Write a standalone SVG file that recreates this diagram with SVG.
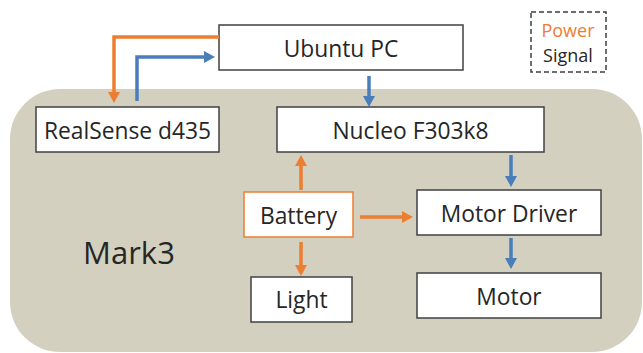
<svg xmlns="http://www.w3.org/2000/svg" width="643" height="353" viewBox="0 0 643 353">
<style>
.box{fill:#fff;stroke:#404040;stroke-width:1.5}
.t{font-family:"Open Sans","Liberation Sans",sans-serif;font-size:22.8px;fill:#262626;text-anchor:middle}
.pw{fill:none;stroke:#ED7D31;stroke-width:3.5}
.sg{fill:none;stroke:#4A7EBB;stroke-width:3.5}
</style>
<defs>
<marker id="ao" markerUnits="userSpaceOnUse" markerWidth="14" markerHeight="14" refX="0" refY="0" viewBox="0 -7 12 14" orient="auto"><path d="M0,-6 L11,0 L0,6 z" fill="#ED7D31"/></marker>
<marker id="ab" markerUnits="userSpaceOnUse" markerWidth="14" markerHeight="14" refX="0" refY="0" viewBox="0 -7 12 14" orient="auto"><path d="M0,-6 L11,0 L0,6 z" fill="#4A7EBB"/></marker>
</defs>
<rect width="643" height="353" fill="#fff"/>
<rect id="mark3-bg" x="10" y="89" width="632" height="263" rx="50" ry="50" fill="#D4D0C0"/>
<text class="t" x="129" y="264" style="font-size:31px">Mark3</text>
<g id="legend">
<rect x="531" y="12" width="75" height="60" fill="#fff" stroke="#404040" stroke-width="1.5" stroke-dasharray="5,3"/>
<text class="t" x="568" y="37" style="font-size:18px;fill:#ED7D31">Power</text>
<text class="t" x="568" y="62" style="font-size:18px">Signal</text>
</g>
<g id="ubuntu"><rect class="box" x="219" y="25" width="244" height="45"/><text class="t" x="341" y="57">Ubuntu PC</text></g>
<g id="realsense"><rect class="box" x="36" y="107" width="183" height="45"/><text class="t" x="127.5" y="139">RealSense d435</text></g>
<g id="nucleo"><rect class="box" x="277" y="107" width="267" height="45"/><text class="t" x="410.5" y="139">Nucleo F303k8</text></g>
<g id="battery"><rect x="244" y="192" width="109" height="45" fill="#fff" stroke="#ED7D31" stroke-width="1.5"/><text class="t" x="298.5" y="224">Battery</text></g>
<g id="light"><rect class="box" x="251" y="277" width="101" height="45"/><text class="t" x="301.5" y="308">Light</text></g>
<g id="motordriver"><rect class="box" x="417" y="190" width="184" height="45"/><text class="t" x="509" y="222">Motor Driver</text></g>
<g id="motor"><rect class="box" x="417" y="273" width="184" height="45"/><text class="t" x="509" y="305">Motor</text></g>
<g id="connectors">
<path class="pw" d="M219,37 H114 V92" marker-end="url(#ao)"/>
<path class="sg" d="M137,101 V57 H204" marker-end="url(#ab)"/>
<path class="sg" d="M369,76 V96" marker-end="url(#ab)"/>
<path class="sg" d="M511,155 V176" marker-end="url(#ab)"/>
<path class="sg" d="M511,238 V258" marker-end="url(#ab)"/>
<path class="pw" d="M360,217 H402" marker-end="url(#ao)"/>
<path class="pw" d="M301,190 V166" marker-end="url(#ao)"/>
<path class="pw" d="M301,242 V265" marker-end="url(#ao)"/>
</g>
</svg>
